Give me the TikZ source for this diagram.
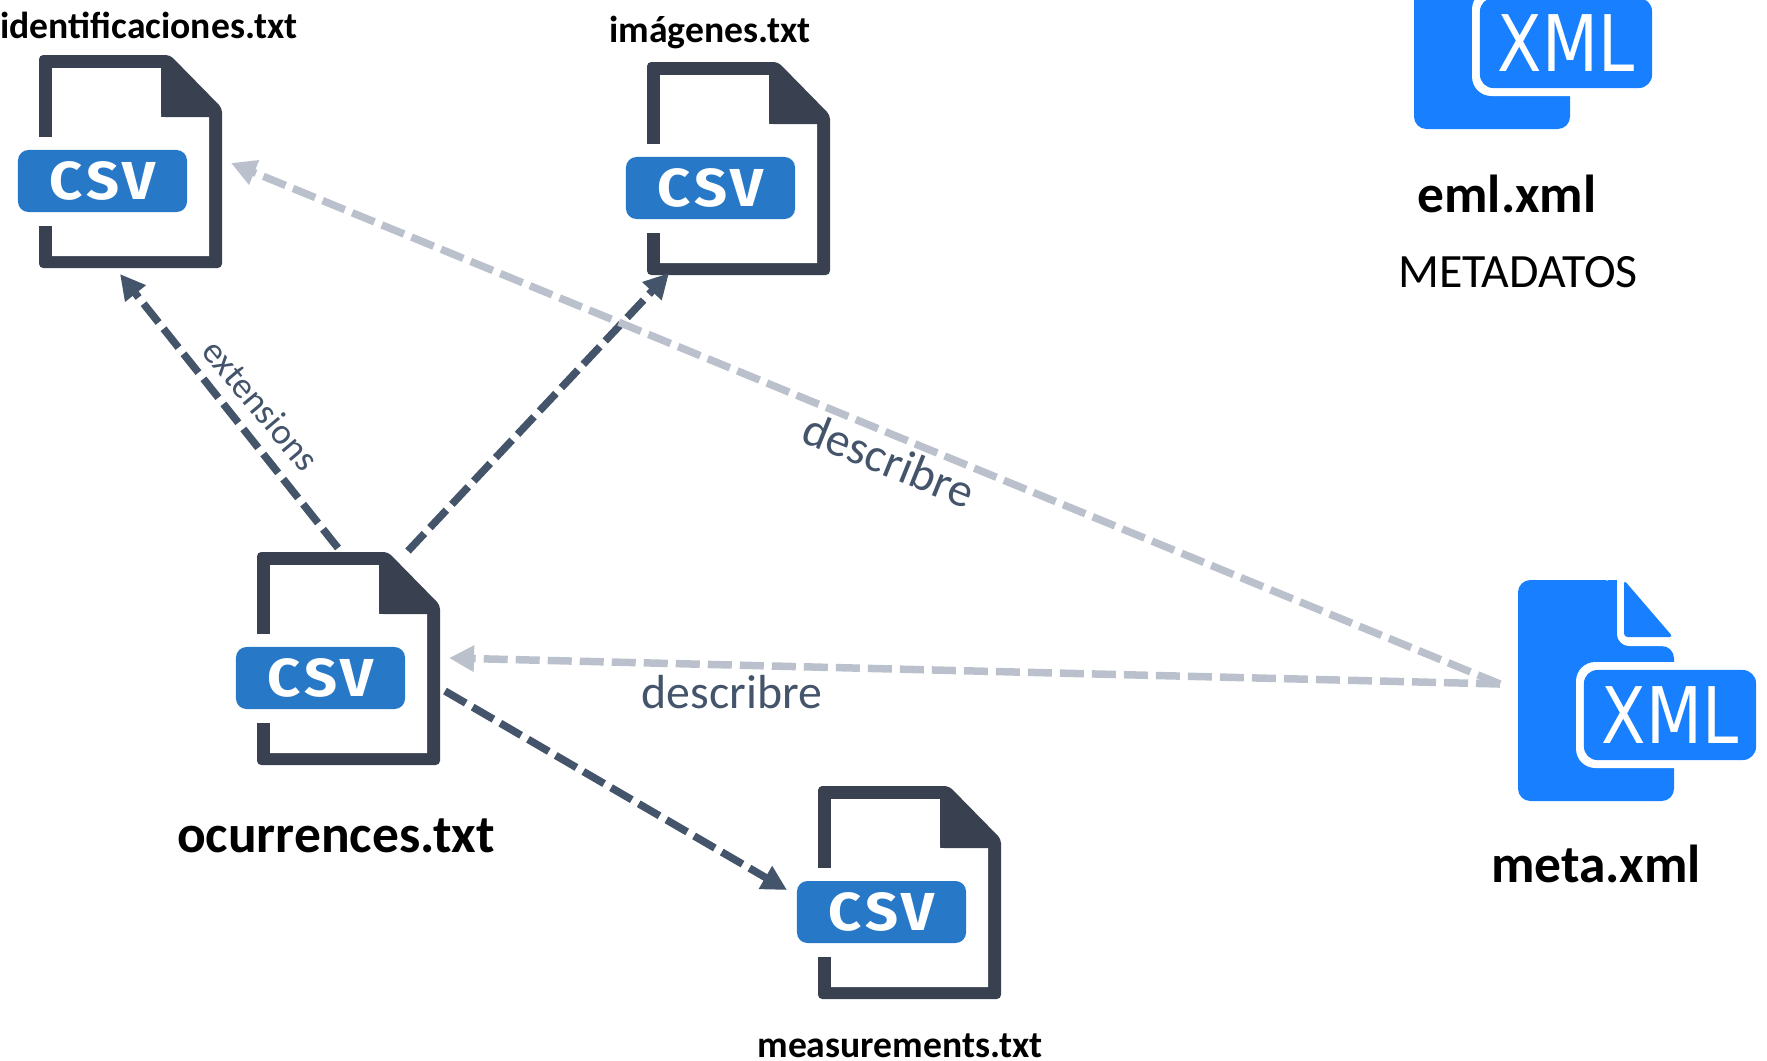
\documentclass[tikz,border=0pt]{standalone}
\usepackage{fontspec}
\setmainfont{Carlito}
\newfontfamily\csvfont[LetterSpace=8]{Fira Sans}
\newfontfamily\xmlfont{DejaVu Sans}
\usepackage{xcolor}
\usepackage{tikz}
\usetikzlibrary{arrows.meta}

\definecolor{filedark}{HTML}{394150}
\definecolor{csvblue}{HTML}{2878C8}
\definecolor{xmlblue}{HTML}{1880FF}
\definecolor{linkdark}{HTML}{44546A}
\definecolor{linklight}{HTML}{BBC1CC}

\tikzset{
    csvfile/.pic={
        \fill[filedark,rounded corners=1.2pt] (0,0) -- (131,0) -- (183,53) -- (183,213) -- (0,213) -- cycle;
        \fill[white] (13,13) -- (122,13) -- (122,62) -- (170,62) -- (170,201) -- (13,201) -- cycle;
        \fill[filedark,rounded corners=1.2pt] (122,10) -- (135,10) -- (175,62) -- (122,62) -- cycle; % Fold
        \fill[white] (-2,82) rectangle (14,171);
        \node[fill=csvblue,rounded corners=3pt,text=white,inner sep=0,minimum width=169*0.1mm,minimum height=62*0.1mm,font=\csvfont\bfseries\fontsize{15.2}{16}\selectfont] (-badge) at (63.5,126) {\scalebox{1.08}[1]{CSV}};
    },
    xmlfile/.pic={
        \fill[xmlblue,rounded corners=3.5pt] (0,0) -- (99,0) -- (99,66) -- (156,66) -- (156,221) -- (0,221) -- cycle;
        \fill[xmlblue] (90,0) rectangle (99,20);
        \fill[xmlblue] (0,60) rectangle (99,66);
        \fill[white,rounded corners=3.5pt] (99,-2) -- (99,66) -- (158,66) -- (158,57) -- (106,57) -- (106,-2) -- cycle;
        \fill[xmlblue,rounded corners=1pt] (106,0) -- (155,57) -- (106,57) -- cycle; % Fold
        \fill[white,rounded corners=5.5pt] (58,82) rectangle (180,188);
        \node[fill=xmlblue,rounded corners=3.8pt,text=white,inner sep=0,minimum width=172*0.1mm,minimum height=90*0.1mm,font=\xmlfont\fontsize{22.2}{25}\selectfont] (-badge) at (152,135) {\scalebox{0.83}[1]{XML}};
    },
    filename/.style={font=\bfseries\fontsize{10.7}{13}\selectfont,text=black,inner sep=0},
    bigname/.style={font=\bfseries\fontsize{15.2}{17}\selectfont,text=black,inner sep=0},
    linklabel/.style={text=linkdark,inner sep=0,font=\fontsize{13.6}{15}\selectfont},
    darklink/.style={draw=linkdark,line width=0.075cm,dash pattern=on 0.24cm off 0.08cm,-{Triangle[length=0.25cm,width=0.25cm]}},
    lightlink/.style={draw=linklight,line width=0.075cm,dash pattern=on 0.24cm off 0.08cm,-{Triangle[length=0.25cm,width=0.25cm]}}
}

\begin{document}
\begin{tikzpicture}[x=0.01cm,y=-0.01cm]
    \useasboundingbox (0,0) rectangle (1767,1060);
    \clip (0,0) rectangle (1767,1060);

    \pic (ident) at (39,55) {csvfile};
    \pic (imag) at (647,62) {csvfile};
    \pic (occ) at (257,552) {csvfile};
    \pic (meas) at (818,786) {csvfile};
    \pic (eml) at (1414,-92) {xmlfile};
    \pic (meta) at (1518,580) {xmlfile};

    \node[filename] (identname) at (149,25) {identificaciones.txt};
    \node[filename] (imagname) at (710,32) {imágenes.txt};
    \node[bigname] (occname) at (336,836) {ocurrences.txt};
    \node[filename] (measname) at (900,1046) {measurements.txt};
    \node[bigname] (emlname) at (1507,194) {eml.xml};
    \node[inner sep=0,text=black,font=\fontsize{13.6}{15}\selectfont] (emlnote) at (1518,272) {METADATOS};
    \node[bigname] (metaname) at (1596,864) {meta.xml};

    \coordinate (metaport) at ([shift={(-170,-31)}]meta-badge.center);
    \coordinate (occa) at ([shift={(17.5,-130)}]occ-badge.center);
    \coordinate (occb) at ([shift={(87.5,-127)}]occ-badge.center);
    \coordinate (occc) at ([shift={(124.5,13)}]occ-badge.center);
    \coordinate (occd) at ([shift={(128.5,-20)}]occ-badge.center);
    \coordinate (identa) at ([shift={(17.5,93)}]ident-badge.center);
    \coordinate (identb) at ([shift={(128.5,-18)}]ident-badge.center);
    \coordinate (imaga) at ([shift={(-41.5,85)}]imag-badge.center);
    \coordinate (measa) at ([shift={(-94.5,-22)}]meas-badge.center);

    \draw[darklink] (occa) -- (identa);
    \draw[darklink] (occb) -- (imaga);
    \draw[darklink] (occc) -- (measa);
    \draw[lightlink] (metaport) -- (occd);
    \draw[lightlink] (metaport) -- (identb);

    \node[linklabel,rotate=-50,font=\fontsize{10.4}{12}\selectfont] (extlabel) at (261,405) {extensions};
    \node[linklabel,rotate=-22] (desclabela) at (889,460) {describre};
    \node[linklabel] (desclabelb) at (732,692) {describre};
\end{tikzpicture}
\end{document}
